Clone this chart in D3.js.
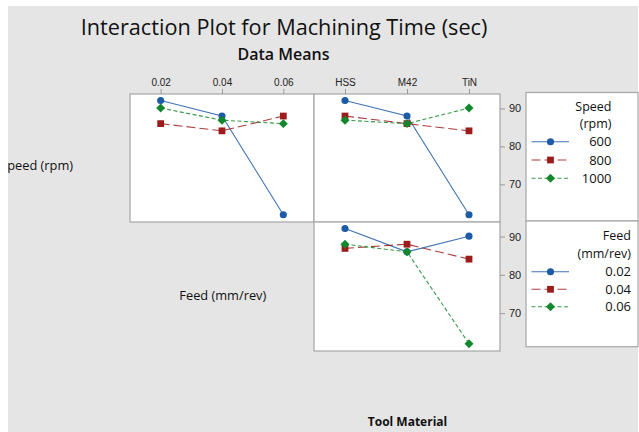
<!DOCTYPE html>
<html>
<head>
<meta charset="utf-8">
<script src="https://cdn.jsdelivr.net/npm/d3@7"></script>
<style>
  body { margin: 0; background: #fff; }
  svg { display: block; font-family: "Open Sans", "Noto Sans", sans-serif; }
</style>
</head>
<body>
<svg id="chart" width="639" height="432"></svg>
<script>
// Factor levels
const feedLevels = ["0.02", "0.04", "0.06"];
const toolLevels = ["HSS", "M42", "TiN"];
const speedLevels = ["600", "800", "1000"];
const yTicks = [70, 80, 90];

// Means of machining time (sec)
// rows = speed 600/800/1000, cols = feed 0.02/0.04/0.06
const timeSpeedFeed = [
  [92.1, 88.0, 62.0],
  [86.0, 84.1, 88.0],
  [90.1, 86.9, 86.0]
];
// rows = speed 600/800/1000, cols = HSS/M42/TiN
const timeSpeedTool = [
  [92.1, 88.0, 62.0],
  [88.0, 86.0, 84.1],
  [86.9, 86.0, 90.1]
];
// rows = feed 0.02/0.04/0.06, cols = HSS/M42/TiN
const timeFeedTool = [
  [92.1, 86.0, 90.1],
  [86.9, 88.0, 84.1],
  [88.0, 86.0, 62.0]
];

const colors = ["#1d5aa8", "#9c1c1c", "#12882c"];
const dashes = [null, "9,4", "4,2.5"];
const symbols = [d3.symbolCircle, d3.symbolSquare, d3.symbolSquare];
const symSizes = [40, 46, 40];
const symRot = [0, 0, 45];

const svg = d3.select("#chart");
const defs = svg.append("defs");
defs.append("clipPath").attr("id", "bg-clip")
  .append("rect").attr("x", 8).attr("y", 6).attr("width", 630).attr("height", 426);

// grey backdrop
svg.append("rect").attr("x", 8).attr("y", 6).attr("width", 630).attr("height", 426)
  .attr("fill", "#e5e5e5");

// titles
svg.append("text").attr("x", 284).attr("y", 35).attr("text-anchor", "middle")
  .attr("font-size", 21.7).attr("fill", "#111")
  .text("Interaction Plot for Machining Time (sec)");
svg.append("text").attr("x", 283.5).attr("y", 60).attr("text-anchor", "middle")
  .attr("font-size", 16).attr("font-weight", 600).attr("fill", "#111")
  .text("Data Means");

// panel layout
const cols = [[130, 314], [314, 500]];
const rows = [[94, 222], [222, 351]];

function yScale(r) {
  return d3.scaleLinear().domain([60.1, 93.8]).range([rows[r][1], rows[r][0]]);
}
function xScale(c, levels) {
  return d3.scalePoint().domain(levels).range(cols[c]).padding(0.5);
}

function marker(g, i, x, y) {
  g.append("path")
    .attr("d", d3.symbol().type(symbols[i]).size(symSizes[i]))
    .attr("transform", `translate(${x},${y}) rotate(${symRot[i]})`)
    .attr("fill", colors[i]);
}

function drawPanel(c, r, levels, table) {
  const x = xScale(c, levels);
  const y = yScale(r);
  svg.append("rect")
    .attr("x", cols[c][0]).attr("y", rows[r][0])
    .attr("width", cols[c][1] - cols[c][0]).attr("height", rows[r][1] - rows[r][0])
    .attr("fill", "#fff").attr("stroke", "#a6a6a6").attr("stroke-width", 1.2);

  const line = d3.line().x((d, j) => x(levels[j])).y(d => y(d));
  const g = svg.append("g");
  table.forEach((vals, i) => {
    g.append("path").datum(vals)
      .attr("d", line)
      .attr("fill", "none")
      .attr("stroke", colors[i])
      .attr("stroke-width", 1.1)
      .attr("stroke-opacity", 0.85)
      .attr("stroke-dasharray", dashes[i]);
  });
  table.forEach((vals, i) => {
    vals.forEach((v, j) => marker(g, i, x(levels[j]), y(v)));
  });
  return { x, y };
}

const p1 = drawPanel(0, 0, feedLevels, timeSpeedFeed);
const p2 = drawPanel(1, 0, toolLevels, timeSpeedTool);
const p3 = drawPanel(1, 1, toolLevels, timeFeedTool);

function styleAxis(g) {
  g.select(".domain").remove();
  g.selectAll(".tick line").attr("stroke", "#9a9a9a");
  g.selectAll(".tick text").attr("fill", "#222").attr("font-family", "inherit");
}

// top axes
svg.append("g").attr("transform", `translate(0,${rows[0][0]})`)
  .call(d3.axisTop(p1.x).tickSize(5).tickPadding(3))
  .attr("font-size", 10).call(styleAxis);
svg.append("g").attr("transform", `translate(0,${rows[0][0]})`)
  .call(d3.axisTop(p2.x).tickSize(5).tickPadding(3))
  .attr("font-size", 10).call(styleAxis);

// right axes
[p2, p3].forEach(p => {
  svg.append("g").attr("transform", `translate(${cols[1][1]},0)`)
    .call(d3.axisRight(p.y).tickValues(yTicks).tickSize(5).tickPadding(4))
    .attr("font-size", 11).call(styleAxis);
});

// row / column labels
svg.append("text").attr("x", 73).attr("y", 169.5).attr("text-anchor", "end")
  .attr("font-size", 12.8).attr("fill", "#111").attr("clip-path", "url(#bg-clip)")
  .text("Speed (rpm)");
svg.append("text").attr("x", 222.8).attr("y", 299.5).attr("text-anchor", "middle")
  .attr("font-size", 12.8).attr("fill", "#111")
  .text("Feed (mm/rev)");
svg.append("text").attr("x", 407.5).attr("y", 426).attr("text-anchor", "middle")
  .attr("font-size", 12).attr("font-weight", 700).attr("fill", "#111")
  .text("Tool Material");

// legends
function drawLegend(top, bottom, titleLines, labels, textRight, titleY, itemY) {
  svg.append("rect").attr("x", 526).attr("y", top).attr("width", 112).attr("height", bottom - top)
    .attr("fill", "#fff").attr("stroke", "#a6a6a6").attr("stroke-width", 1.2);
  titleLines.forEach((t, k) => {
    svg.append("text").attr("x", textRight).attr("y", titleY[k]).attr("text-anchor", "end")
      .attr("font-size", 12.5).attr("fill", "#111").text(t);
  });
  labels.forEach((lab, i) => {
    const yy = itemY[i];
    svg.append("line").attr("x1", 531.5).attr("x2", 569).attr("y1", yy).attr("y2", yy)
      .attr("stroke", colors[i]).attr("stroke-width", 1.1).attr("stroke-opacity", 0.85)
      .attr("stroke-dasharray", dashes[i]);
    marker(svg, i, 550.5, yy);
    svg.append("text").attr("x", textRight).attr("y", yy + 4.7).attr("text-anchor", "end")
      .attr("font-size", 13).attr("fill", "#111").text(lab);
  });
}

drawLegend(92.5, 221, ["Speed", "(rpm)"], speedLevels, 611.5, [111, 127.5], [141.7, 160, 178.3]);
drawLegend(221, 346.7, ["Feed", "(mm/rev)"], feedLevels, 631, [239.5, 257.5], [271.7, 289.3, 306.7]);
</script>
</body>
</html>
